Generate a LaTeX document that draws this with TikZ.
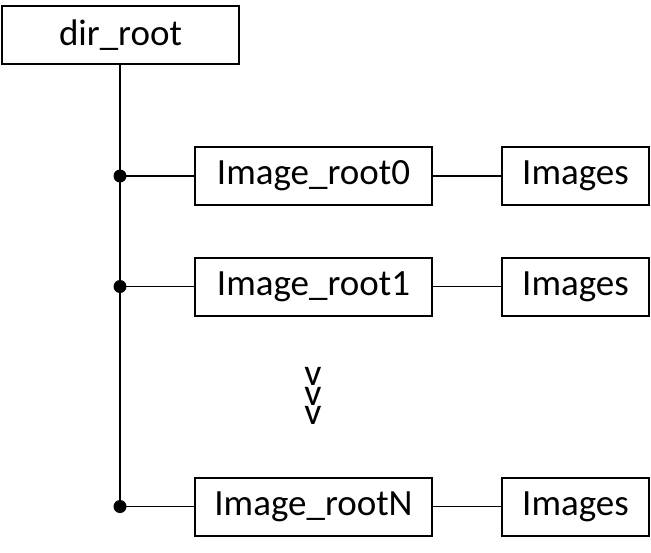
\documentclass[tikz,border=0pt]{standalone}
\usepackage{fontspec}
\setmainfont{Carlito}
\usetikzlibrary{positioning}

\begin{document}
\begin{tikzpicture}[x=1pt,y=-1pt,font=\fontsize{37}{44}\selectfont,
  box/.style={draw,line width=2pt,inner sep=0pt,minimum height=58pt,minimum width=#1},
  conn/.style={line width=1.2pt},
  jdot/.style={circle,fill,inner sep=0pt,minimum size=13pt}]
\useasboundingbox (0,0) rectangle (651,552);
\node[box=237pt] (root) at (120.5,35) {dir\_root};
% one row per image folder
\foreach \r/\y/\t in {0/176/0, 1/286.5/1, N/506.5/N} {
  \node[box=237pt] (img\r) at (313.5,\y) {Image\_root\t};
  \node[box=147pt] (set\r) at (575.5,\y) {Images};
  \coordinate (j\r) at (120,\y);
}
\draw[conn] (root.south -| jN) -- (jN);
\foreach \r in {0,1,N} {
  \draw[conn] (j\r) -- (img\r.west);
  \draw[conn] (img\r.east) -- (set\r.west);
  \node[jdot] at (j\r) {};
}
% skipped rows
\node[font=\fontsize{38}{18}\selectfont,align=center,inner sep=0pt] (gap) at (313,396) {v\\v\\v};
\end{tikzpicture}
\end{document}
